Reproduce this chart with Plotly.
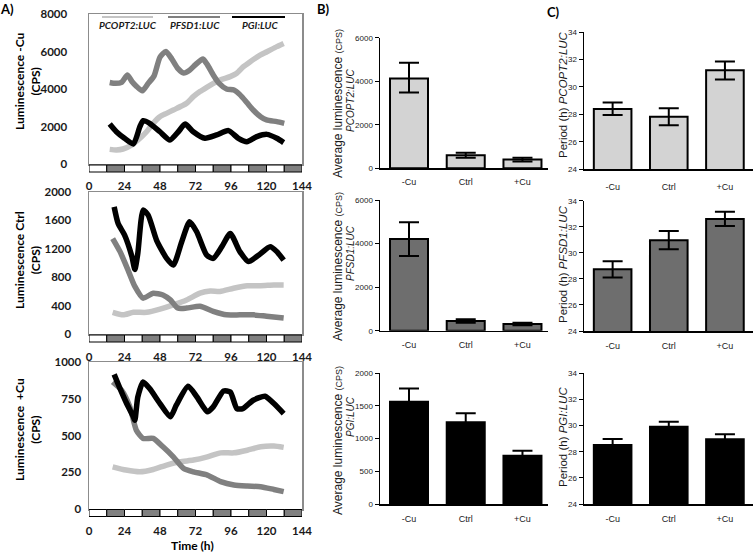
import plotly.graph_objects as go

W, H = 755, 554
def fx(px): return px / W
def fy(py): return 1 - py / H

# ---------------- Data: panel A (time courses) ----------------
# -Cu
t_copt2_mcu = [14, 18.5, 23, 28.7, 33.2, 38.9, 43.4, 47.9, 52.4, 57, 62.6, 66, 70.5, 75, 79.6, 84.1, 88.6, 95.4, 99.9, 104.4, 109, 115.7, 120.3, 127, 131.6]
v_copt2_mcu = [780, 750, 800, 1010, 1280, 1720, 2170, 2520, 2700, 2880, 3090, 3240, 3590, 3860, 4090, 4300, 4480, 4660, 4840, 5190, 5460, 5810, 5990, 6260, 6430]
t_fsd1_mcu = [14, 18, 22, 26, 29, 32, 36, 40, 44, 48, 52, 56, 60, 64, 68, 72, 77, 80, 84, 88, 93, 98, 102, 107, 111, 116, 120, 127, 132]
v_fsd1_mcu = [4350, 4300, 4350, 4750, 4400, 4150, 3900, 4300, 4700, 5700, 6000, 5600, 5100, 4850, 5000, 5300, 5600, 5300, 4750, 4300, 4000, 3950, 3700, 3250, 2880, 2520, 2350, 2260, 2170]
t_gi_mcu = [14, 18.5, 24, 30, 34.4, 36.6, 41, 48, 54.7, 60.4, 65, 70.5, 78.4, 86.3, 94.3, 101, 106.7, 113.5, 120.3, 127, 131.6]
v_gi_mcu = [2130, 1720, 1370, 1070, 1990, 2310, 2170, 1720, 1280, 1720, 2130, 1720, 1370, 1550, 1780, 1370, 1190, 1460, 1580, 1370, 1140]
# Ctrl
t_copt2_ctrl = [16, 23, 30, 39, 48, 57, 66, 75, 82, 88.6, 97.7, 107, 116, 125, 131.6]
v_copt2_ctrl = [305, 270, 305, 305, 350, 410, 480, 575, 605, 600, 645, 680, 680, 690, 690]
t_fsd1_ctrl = [16, 21, 26.4, 31, 36.6, 43.4, 50, 55, 60, 66, 75, 84, 93, 102, 111, 120, 131.6]
v_fsd1_ctrl = [1345, 1160, 900, 670, 505, 575, 550, 480, 365, 365, 390, 320, 270, 270, 270, 250, 225]
t_gi_ctrl = [17, 19.7, 24, 29, 31, 33, 36.6, 40, 45.7, 52.5, 57, 62.7, 68, 72.8, 79.6, 84, 89.8, 95.5, 102, 107.8, 114.6, 122.5, 127, 131.6]
v_gi_ctrl = [1790, 1555, 1395, 1090, 910, 1135, 1745, 1675, 1320, 1065, 970, 1300, 1580, 1440, 1110, 1065, 1230, 1415, 1160, 1020, 1110, 1230, 1160, 1040]
# +Cu
t_copt2_pcu = [16, 25, 34.4, 43.4, 52.5, 61.5, 70.6, 80, 89, 98, 107, 116, 125, 131.6]
v_copt2_pcu = [287, 265, 253, 269, 299, 321, 333, 355, 382, 382, 400, 423, 428, 419]
t_fsd1_pcu = [16, 22, 27.6, 32, 36.6, 43.4, 50, 57, 64, 70.6, 80, 89, 98, 107, 116, 125, 131.6]
v_fsd1_pcu = [864, 808, 695, 536, 480, 480, 423, 355, 276, 253, 231, 186, 163, 156, 152, 133, 118]
t_gi_pcu = [17, 21, 25, 30, 31, 33, 36.6, 41, 48, 55, 59, 67, 73, 80, 84, 91, 95.5, 100, 104, 111, 119, 125, 131.6]
v_gi_pcu = [916, 819, 728, 627, 604, 762, 864, 819, 717, 627, 706, 835, 762, 661, 695, 803, 796, 683, 683, 740, 767, 717, 649]

series_names = ["PCOPT2:LUC", "PFSD1:LUC", "PGI:LUC"]
x_ticks_time = [0, 24, 48, 72, 96, 120, 144]

# ---------------- Data: panels B and C (bars) ----------------
categories = ["-Cu", "Ctrl", "+Cu"]
lum_copt2 = [4130, 600, 400]
lum_copt2_up = [720, 110, 90]
lum_copt2_dn = [650, 110, 90]
lum_fsd1 = [4210, 445, 305]
lum_fsd1_up = [770, 75, 60]
lum_fsd1_dn = [780, 75, 60]
lum_gi = [1566, 1250, 740]
lum_gi_up = [200, 138, 76]
lum_gi_dn = [200, 138, 76]
per_copt2 = [28.4, 27.83, 31.22]
per_copt2_up = [0.46, 0.61, 0.63]
per_copt2_dn = [0.45, 0.62, 0.68]
per_fsd1 = [28.74, 30.97, 32.59]
per_fsd1_up = [0.62, 0.7, 0.56]
per_fsd1_dn = [0.64, 0.69, 0.54]
per_gi = [28.52, 29.92, 28.95]
per_gi_up = [0.45, 0.38, 0.38]
per_gi_dn = [0.45, 0.38, 0.38]

c_light_line = "#c4c4c4"
c_mid_line = "#808080"
c_light_bar = "#d3d3d3"
c_mid_bar = "#6e6e6e"

fig = go.Figure()

def add_line(t, v, color, n):
    fig.add_trace(go.Scatter(x=t, y=v, mode="lines",
                             line=dict(color=color, width=5.5, shape="spline", smoothing=0.6),
                             xaxis="x" + ("" if n == 1 else str(n)),
                             yaxis="y" + ("" if n == 1 else str(n)),
                             hoverinfo="skip"))

add_line(t_copt2_mcu, v_copt2_mcu, c_light_line, 1)
add_line(t_fsd1_mcu, v_fsd1_mcu, c_mid_line, 1)
add_line(t_gi_mcu, v_gi_mcu, "black", 1)
add_line(t_copt2_ctrl, v_copt2_ctrl, c_light_line, 2)
add_line(t_fsd1_ctrl, v_fsd1_ctrl, c_mid_line, 2)
add_line(t_gi_ctrl, v_gi_ctrl, "black", 2)
add_line(t_copt2_pcu, v_copt2_pcu, c_light_line, 3)
add_line(t_fsd1_pcu, v_fsd1_pcu, c_mid_line, 3)
add_line(t_gi_pcu, v_gi_pcu, "black", 3)

def add_bars(vals, up, dn, color, n):
    fig.add_trace(go.Bar(x=list(range(len(categories))), y=vals, width=0.67,
                         marker=dict(color=color, line=dict(color="black", width=2)),
                         error_y=dict(type="data", array=up, arrayminus=dn, symmetric=False,
                                      color="black", thickness=2, width=10),
                         xaxis="x" + str(n), yaxis="y" + str(n), hoverinfo="skip"))

add_bars(lum_copt2, lum_copt2_up, lum_copt2_dn, c_light_bar, 4)
add_bars(lum_fsd1, lum_fsd1_up, lum_fsd1_dn, c_mid_bar, 5)
add_bars(lum_gi, lum_gi_up, lum_gi_dn, "black", 6)
add_bars(per_copt2, per_copt2_up, per_copt2_dn, c_light_bar, 7)
add_bars(per_fsd1, per_fsd1_up, per_fsd1_dn, c_mid_bar, 8)
add_bars(per_gi, per_gi_up, per_gi_dn, "black", 9)

fontA = dict(family="Lato", size=11.5, color="#1a1a1a", weight="bold")
fontB = dict(family="Liberation Sans", size=8, color="#1a1a1a")
fontBx = dict(family="Liberation Sans", size=9, color="#1a1a1a")

layout = dict(width=W, height=H, margin=dict(l=0, r=0, t=0, b=0, autoexpand=False),
              paper_bgcolor="white", plot_bgcolor="white", showlegend=False,
              bargap=0)

# panel A axes: (n, top_px, bottom_px, range, dtick, y_standoff, x_standoff)
A_specs = [(1, 14, 164, [0, 8000], 2000, 18, 11),
           (2, 192, 334, [0, 2000], 400, 14, 12),
           (3, 362, 509, [0, 1000], 250, 4, 11)]
for n, top, bot, rng, dt, ysd, xsd in A_specs:
    sfx = "" if n == 1 else str(n)
    layout["xaxis" + sfx] = dict(domain=[fx(89), fx(302)], range=[0, 144], anchor="y" + sfx,
                                 tickvals=x_ticks_time, ticks="", showgrid=False, zeroline=False,
                                 showline=True, mirror=True, linecolor="#8c8c8c", linewidth=1.5,
                                 tickfont=fontA, ticklabelstandoff=xsd, automargin=False)
    layout["yaxis" + sfx] = dict(domain=[fy(bot), fy(top)], range=rng, dtick=dt, anchor="x" + sfx,
                                 ticks="", showgrid=False, zeroline=False,
                                 showline=True, mirror=True, linecolor="#8c8c8c", linewidth=1.5,
                                 tickfont=fontA, ticklabelstandoff=ysd, automargin=False)

B_specs = [(4, 37.7, 168.3, [0, 6000], 2000, 4),
           (5, 200, 330.7, [0, 6000], 2000, 5),
           (6, 373.3, 504, [0, 2000], 500, 6)]
C_specs = [(7, 32, 169.3, [24, 34], 2, 8),
           (8, 200.7, 331, [24, 34], 2, 6),
           (9, 373.3, 504, [24, 34], 2, 6)]
for specs, xl, xr, xrng in [(B_specs, 380, 548, [-0.511, 2.45]), (C_specs, 584, 753, [-0.51, 2.5])]:
    for n, top, bot, rng, dt, xsd in specs:
        layout["xaxis" + str(n)] = dict(domain=[fx(xl), fx(xr)], range=xrng, anchor="y" + str(n),
                                        tickvals=list(range(len(categories))), ticktext=categories,
                                        ticks="", showgrid=False, zeroline=False,
                                        showline=True, linecolor="black", linewidth=1.5,
                                        tickfont=fontBx, ticklabelstandoff=xsd, automargin=False)
        layout["yaxis" + str(n)] = dict(domain=[fy(bot), fy(top)], range=rng, dtick=dt, anchor="x" + str(n),
                                        ticks="outside", ticklen=4, tickwidth=1, tickcolor="black",
                                        showgrid=False, zeroline=False,
                                        showline=True, linecolor="black", linewidth=1.5,
                                        tickfont=fontB, automargin=False)

shapes = []
# light/dark strips below the time-course panels
for n, axis_px in [(1, 165), (2, 335), (3, 509.5)]:
    sfx = "" if n == 1 else str(n)
    for i in range(12):
        shapes.append(dict(type="rect", xref="x" + sfx, yref="paper",
                           x0=12 * i, x1=12 * i + 12, y0=fy(axis_px + 7), y1=fy(axis_px),
                           fillcolor="white" if i % 2 == 0 else "#808080",
                           line=dict(color="black", width=1), layer="above"))
# legend lines
for (x0, x1), col in zip([(102, 153), (168, 220), (232, 285)], [c_light_line, c_mid_line, "black"]):
    shapes.append(dict(type="line", xref="paper", yref="paper", x0=fx(x0), x1=fx(x1),
                       y0=fy(17), y1=fy(17), line=dict(color=col, width=2)))
layout["shapes"] = shapes

ann = []
def txt(x, y, s, font, angle=0, xanchor="center"):
    ann.append(dict(x=fx(x), y=fy(y), xref="paper", yref="paper", text=s, showarrow=False,
                    font=font, textangle=angle, xanchor=xanchor, yanchor="middle"))

fpanel = dict(family="Lato", size=13, color="black", weight="bold")
txt(7, 9, "A)", fpanel)
txt(323, 9, "B)", fpanel)
txt(553, 12, "C)", fpanel)

fleg = dict(family="Lato", size=10, color="#1a1a1a", weight="bold", style="italic")
for xc, name in zip([128, 195, 260], series_names):
    txt(xc, 25, name, fleg)

ftitleA = dict(family="Lato", size=12, color="black", weight="bold")
txt(27, 82, "Luminescence -Cu<br>(CPS)", ftitleA, -90)
txt(27, 260, "Luminescence Ctrl<br>(CPS)", ftitleA, -90)
txt(27, 430, "Luminescence  +Cu<br>(CPS)", ftitleA, -90)
txt(192, 545, "Time (h)", ftitleA)

ftB = dict(family="Liberation Sans", size=12, color="#1a1a1a")
ftBi = dict(family="Liberation Sans", size=10, color="#1a1a1a", style="italic")
cps = " <span style='font-size:9px'>(CPS)</span>"
txt(338, 104, "Average luminescence" + cps, ftB, -90)
txt(350, 100, "PCOPT2:LUC", ftBi, -90)
txt(338, 267, "Average luminescence" + cps, ftB, -90)
txt(350, 253, "PFSD1:LUC", ftBi, -90)
txt(338, 441, "Average luminescence" + cps, ftB, -90)
txt(350, 417, "PGI:LUC", ftBi, -90)

ftC = dict(family="Liberation Sans", size=11.5, color="#1a1a1a")
txt(563, 95, "Period (h) <i>PCOPT2:LUC</i>", ftC, -90)
txt(563, 264, "Period (h) <i>PFSD1:LUC</i>", ftC, -90)
txt(563, 437, "Period (h) <i>PGI:LUC</i>", ftC, -90)

layout["annotations"] = ann
fig.update_layout(**layout)
fig.write_html("out.html", config={"displayModeBar": False, "staticPlot": True},
               post_script="document.body.style.margin='0px';")
